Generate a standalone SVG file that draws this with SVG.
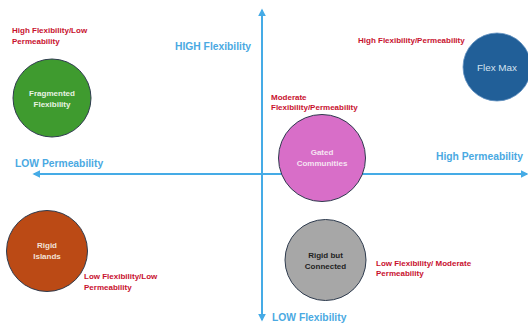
<svg xmlns="http://www.w3.org/2000/svg" width="528" height="327" viewBox="0 0 528 327">
<style>
.axis{stroke:#45abe6;stroke-width:2;fill:none}
.ax{font-family:"Liberation Sans",Arial,sans-serif;font-weight:bold;font-size:10.3px;fill:#4aa9e2}
.rl{font-family:"Liberation Sans",Arial,sans-serif;font-weight:bold;font-size:8px;fill:#c8102e}
.ct{font-family:"Liberation Sans",Arial,sans-serif;font-weight:bold;font-size:8px;text-anchor:middle}
.circ{stroke:#2e3b4e;stroke-width:1}
</style>
<defs>
<marker id="ah" viewBox="0 0 10 10" refX="8" refY="5" markerWidth="4" markerHeight="4" orient="auto-start-reverse">
<path d="M0,0 L10,5 L0,10 z" fill="#45abe6"/>
</marker>
</defs>
<rect width="528" height="327" fill="#ffffff"/>
<g id="connectors">
<line class="axis" x1="262" y1="320" x2="262" y2="10" marker-start="url(#ah)" marker-end="url(#ah)"/>
<line class="axis" x1="527" y1="174" x2="34" y2="174" marker-start="url(#ah)" marker-end="url(#ah)"/>
</g>
<g id="axis-labels">
<text class="ax" x="175" y="50">HIGH Flexibility</text>
<text class="ax" x="15" y="167">LOW Permeability</text>
<text class="ax" x="436" y="160">High Permeability</text>
<text class="ax" x="272" y="321">LOW Flexibility</text>
</g>
<g id="fragmented">
<circle class="circ" cx="52" cy="98" r="39" fill="#3f9b2f"/>
<text class="ct" x="52" y="96" fill="#e8f3e3">Fragmented</text>
<text class="ct" x="52" y="107" fill="#e8f3e3">Flexibility</text>
<text class="rl" x="12" y="33">High Flexibility/Low</text>
<text class="rl" x="12" y="44">Permeability</text>
</g>
<g id="flexmax">
<circle cx="497" cy="67" r="34" fill="#215f98" stroke="#5f8fbf" stroke-width="0.8"/>
<text x="497" y="70.5" text-anchor="middle" font-family="'Liberation Sans',Arial,sans-serif" font-size="9.9" fill="#d6e3f0">Flex Max</text>
<text class="rl" x="358" y="43">High Flexibility/Permeability</text>
</g>
<g id="gated">
<circle class="circ" cx="322" cy="158" r="43.5" fill="#d86ec8"/>
<text class="ct" x="322" y="155" fill="#f6e4f3">Gated</text>
<text class="ct" x="322" y="166" fill="#f6e4f3">Communities</text>
<text class="rl" x="271" y="100">Moderate</text>
<text class="rl" x="271" y="110">Flexibility/Permeability</text>
</g>
<g id="rigidislands">
<circle class="circ" cx="47" cy="251" r="40.5" fill="#bb4a15"/>
<text class="ct" x="47" y="248" fill="#f3e2d8">Rigid</text>
<text class="ct" x="47" y="259" fill="#f3e2d8">Islands</text>
<text class="rl" x="84" y="279">Low Flexibility/Low</text>
<text class="rl" x="84" y="290">Permeability</text>
</g>
<g id="rigidconnected">
<circle class="circ" cx="325.5" cy="260" r="40.5" fill="#a7a7a7"/>
<text class="ct" x="325.5" y="258" fill="#1f1f1f">Rigid but</text>
<text class="ct" x="325.5" y="269" fill="#1f1f1f">Connected</text>
<text class="rl" x="376" y="266">Low Flexibility/ Moderate</text>
<text class="rl" x="376" y="276">Permeability</text>
</g>
</svg>
